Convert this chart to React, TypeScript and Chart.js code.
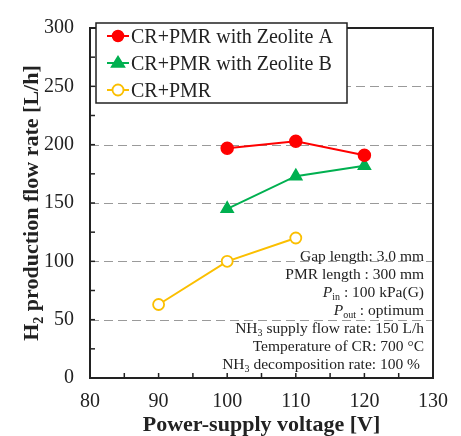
import React, { useEffect, useRef } from "react";
import { Chart, registerables } from "chart.js";

Chart.register(...registerables);

const labelsA = ["CR+PMR with Zeolite A", "CR+PMR with Zeolite B", "CR+PMR"];
const voltA = [100, 110, 120];
const flowA = [197, 203, 191];
const voltB = [100, 110, 120];
const flowB = [145, 173, 182];
const voltC = [90, 100, 110];
const flowC = [63, 100, 120];
const xTicks = [80, 90, 100, 110, 120, 130];
const yTicks = [0, 50, 100, 150, 200, 250, 300];

type Seg = { t: string; sub?: boolean; it?: boolean };
const notes: Seg[][] = [
  [{ t: "Gap length: 3.0 mm" }],
  [{ t: "PMR length : 300 mm" }],
  [{ t: "P", it: true }, { t: "in", sub: true }, { t: " : 100 kPa(G)" }],
  [{ t: "P", it: true }, { t: "out", sub: true }, { t: " : optimum" }],
  [{ t: "NH" }, { t: "3", sub: true }, { t: " supply flow rate: 150 L/h" }],
  [{ t: "Temperature of CR: 700 \u00B0C" }],
  [{ t: "NH" }, { t: "3", sub: true }, { t: " decomposition rate: 100 %" }],
];

const SERIF = '"Liberation Serif", "Times New Roman", serif';
const RED = "#ff0000";
const GREEN = "#00b050";
const ORANGE = "#fbbf00";

function drawRich(ctx: CanvasRenderingContext2D, segs: Seg[], x: number, y: number, size: number, bold: boolean, align: "left" | "right" | "center") {
  const fontOf = (s: Seg) => `${s.it ? "italic " : ""}${bold ? "bold " : ""}${s.sub ? Math.round(size * 0.62) : size}px ${SERIF}`;
  let total = 0;
  for (const s of segs) { ctx.font = fontOf(s); total += ctx.measureText(s.t).width; }
  let cx = align === "right" ? x - total : align === "center" ? x - total / 2 : x;
  ctx.textAlign = "left";
  ctx.textBaseline = "alphabetic";
  for (const s of segs) {
    ctx.font = fontOf(s);
    ctx.fillText(s.t, cx, s.sub ? y + size * 0.22 : y);
    cx += ctx.measureText(s.t).width;
  }
}

const decorPlugin = {
  id: "decor",
  beforeDatasetsDraw(chart: any) {
    const { ctx, chartArea: a, scales } = chart;
    const y = scales.y;
    ctx.save();
    ctx.strokeStyle = "#9a9a9a";
    ctx.lineWidth = 1.2;
    ctx.setLineDash([9, 5]);
    for (const v of [50, 100, 150, 200, 250]) {
      const py = Math.round(y.getPixelForValue(v)) + 0.5;
      ctx.beginPath(); ctx.moveTo(a.left, py); ctx.lineTo(a.right, py); ctx.stroke();
    }
    ctx.restore();
  },
  afterDraw(chart: any) {
    const { ctx, chartArea: a, scales } = chart;
    const x = scales.x, y = scales.y;
    ctx.save();
    // inside ticks
    ctx.strokeStyle = "#222";
    ctx.lineWidth = 1.5;
    for (let v = 25; v < 300; v += 25) {
      const py = y.getPixelForValue(v);
      ctx.beginPath(); ctx.moveTo(a.left, py); ctx.lineTo(a.left + 5, py); ctx.stroke();
    }
    for (let v = 85; v < 130; v += 5) {
      const px = x.getPixelForValue(v);
      ctx.beginPath(); ctx.moveTo(px, a.bottom); ctx.lineTo(px, a.bottom - 5); ctx.stroke();
    }
    // frame
    ctx.lineWidth = 2;
    ctx.strokeStyle = "#222";
    ctx.strokeRect(a.left, a.top, a.right - a.left, a.bottom - a.top);

    // legend
    const lx = 96, ly = 23, lw = 251, lh = 80;
    ctx.fillStyle = "#fff";
    ctx.fillRect(lx, ly, lw, lh);
    ctx.lineWidth = 1.5;
    ctx.strokeStyle = "#222";
    ctx.strokeRect(lx, ly, lw, lh);
    const ds = chart.data.datasets;
    const rows = [36, 63, 90];
    ds.forEach((d: any, i: number) => {
      const ry = rows[i];
      ctx.strokeStyle = d.borderColor;
      ctx.lineWidth = 2;
      ctx.beginPath(); ctx.moveTo(107, ry); ctx.lineTo(129, ry); ctx.stroke();
      ctx.fillStyle = d.pointBackgroundColor;
      ctx.strokeStyle = d.borderColor;
      ctx.lineWidth = d.pointBorderWidth;
      ctx.beginPath();
      if (d.pointStyle === "triangle") {
        const r = 6.5;
        ctx.moveTo(118, ry - r); ctx.lineTo(118 + r, ry + r * 0.6); ctx.lineTo(118 - r, ry + r * 0.6); ctx.closePath();
      } else {
        ctx.arc(118, ry, 5.5, 0, Math.PI * 2);
      }
      ctx.fill(); ctx.stroke();
      ctx.fillStyle = "#222";
      drawRich(ctx, [{ t: d.label }], 131, ry + 7, 20, false, "left");
    });

    // notes
    ctx.fillStyle = "#222";
    const ys = [261, 279, 297, 315, 333, 351, 369];
    notes.forEach((n, i) => drawRich(ctx, n, i === 6 ? 420 : 424, ys[i], 15.5, false, "right"));

    // axis titles
    drawRich(ctx, [{ t: "Power-supply voltage [V]" }], (a.left + a.right) / 2, 431, 22, true, "center");
    ctx.translate(38, (a.top + a.bottom) / 2);
    ctx.rotate(-Math.PI / 2);
    drawRich(ctx, [{ t: "H" }, { t: "2", sub: true }, { t: " production flow rate [L/h]" }], 0, 0, 22, true, "center");
    ctx.restore();
  },
};

export default function App() {
  const ref = useRef<HTMLCanvasElement>(null);
  useEffect(() => {
    if (!ref.current) return;
    const mk = (xs: number[], ys: number[]) => xs.map((v, i) => ({ x: v, y: ys[i] }));
    const chart = new Chart(ref.current, {
      type: "line",
      data: {
        datasets: [
          { label: labelsA[0], data: mk(voltA, flowA), borderColor: RED, backgroundColor: RED, pointBackgroundColor: RED, pointStyle: "circle", pointRadius: 6, pointBorderWidth: 1.5, borderWidth: 2 },
          { label: labelsA[1], data: mk(voltB, flowB), borderColor: GREEN, backgroundColor: GREEN, pointBackgroundColor: GREEN, pointStyle: "triangle", pointRadius: 7, pointBorderWidth: 1.5, borderWidth: 2 },
          { label: labelsA[2], data: mk(voltC, flowC), borderColor: ORANGE, backgroundColor: "#fff", pointBackgroundColor: "#fff", pointStyle: "circle", pointRadius: 5.5, pointBorderWidth: 1.8, borderWidth: 2 },
        ] as any,
      },
      options: {
        animation: false,
        responsive: false,
        layout: { padding: { top: 15, right: 28, left: 0, bottom: 0 } },
        plugins: { legend: { display: false }, tooltip: { enabled: false } },
        scales: {
          x: {
            type: "linear", min: 80, max: 130,
            afterBuildTicks: (s: any) => { s.ticks = xTicks.map((v) => ({ value: v })); },
            afterFit: (s: any) => { s.height = 58; },
            grid: { display: false, drawTicks: false }, border: { display: false },
            ticks: { padding: 12, color: "#222", font: { family: SERIF, size: 20 } },
          },
          y: {
            type: "linear", min: 0, max: 300,
            afterBuildTicks: (s: any) => { s.ticks = yTicks.map((v) => ({ value: v })); },
            afterFit: (s: any) => { s.width = 90; },
            grid: { display: false, drawTicks: false }, border: { display: false },
            ticks: { padding: 16, color: "#222", font: { family: SERIF, size: 20 } },
          },
        },
      } as any,
      plugins: [decorPlugin],
    });
    return () => chart.destroy();
  }, []);
  return (
    <div style={{ position: "fixed", left: 0, top: 0, width: 461, height: 436, background: "#fff" }}>
      <canvas ref={ref} width={461} height={436} style={{ width: 461, height: 436 }} />
    </div>
  );
}
